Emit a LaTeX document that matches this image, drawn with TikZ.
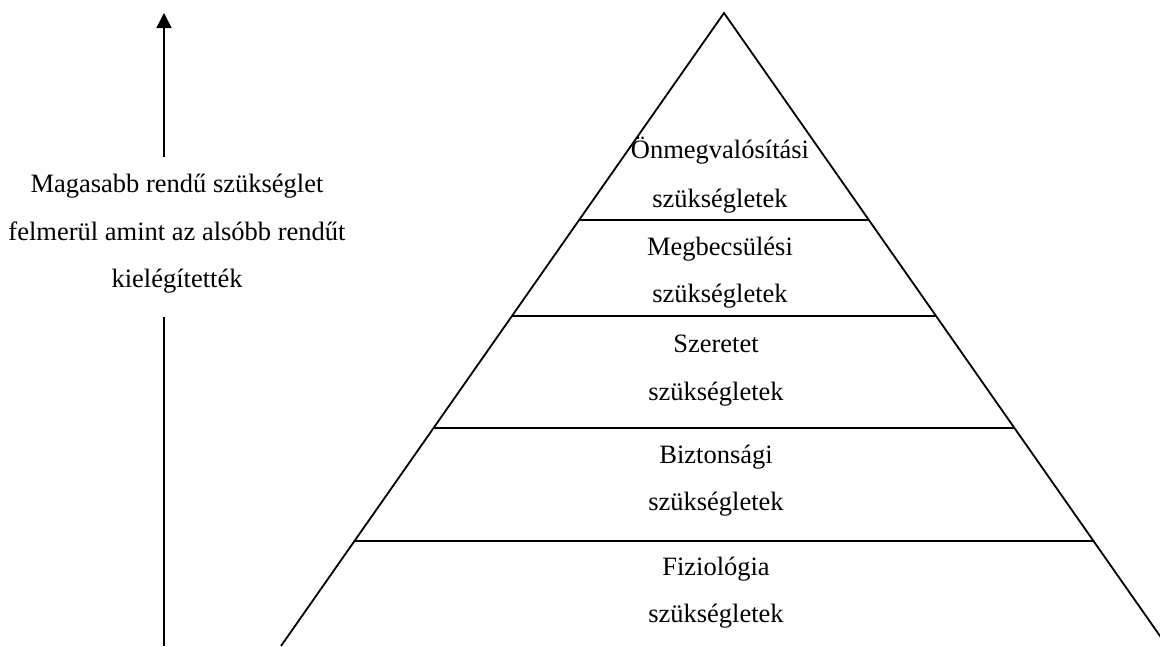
\documentclass[tikz,border=0pt]{standalone}
\usepackage{fontspec}
\setmainfont{Liberation Serif}
\usetikzlibrary{arrows.meta}
\begin{document}
\begin{tikzpicture}[x=1pt,y=-1pt,
  txt/.style={anchor=base,inner sep=0pt,font=\fontsize{26.5}{48}\selectfont},
  pyr/.style={line width=1.8pt,line join=miter},
  tier/.style={line width=1.8pt},
  uparrow/.style={line width=1.4pt}]
\useasboundingbox (0,0) rectangle (1160,646);
\begin{scope}
\clip (0,0) rectangle (1160,646);
\coordinate (apex) at (724,13);
\coordinate (bl) at (281,646);
\coordinate (br) at (1167,646);
\draw[pyr] (bl) -- (apex) -- (br);
\coordinate (t1l) at (579.1,220); \coordinate (t1r) at (868.9,220);
\coordinate (t2l) at (511.9,316); \coordinate (t2r) at (936.1,316);
\coordinate (t3l) at (433.5,428); \coordinate (t3r) at (1014.5,428);
\coordinate (t4l) at (354.4,541); \coordinate (t4r) at (1093.6,541);
\draw[tier] (t1l) -- (t1r);
\draw[tier] (t2l) -- (t2r);
\draw[tier] (t3l) -- (t3r);
\draw[tier] (t4l) -- (t4r);
\end{scope}
% pyramid labels
\node[txt] (l1a) at (720,158) {Önmegvalósítási};
\node[txt] (l1b) at (720,207) {szükségletek};
\node[txt] (l2a) at (720,255) {Megbecsülési};
\node[txt] (l2b) at (720,302) {szükségletek};
\node[txt] (l3a) at (716,352) {Szeretet};
\node[txt] (l3b) at (716,400) {szükségletek};
\node[txt] (l4a) at (716,463) {Biztonsági};
\node[txt] (l4b) at (716,510) {szükségletek};
\node[txt] (l5a) at (716,575) {Fiziológia};
\node[txt] (l5b) at (716,622) {szükségletek};
% left side
\node[txt] (m1) at (177,192) {Magasabb rendű szükséglet};
\node[txt] (m2) at (177,240) {felmerül amint az alsóbb rendűt};
\node[txt] (m3) at (177,287) {kielégítették};
\coordinate (arrbot) at (164,646);
\coordinate (gaplo) at (164,317);
\coordinate (gaphi) at (164,157);
\coordinate (arrtop) at (164,13);
\draw[uparrow] (arrbot) -- (gaplo);
\draw[uparrow,-{Triangle[length=15pt,width=15pt]}] (gaphi) -- (arrtop);
\end{tikzpicture}
\end{document}
